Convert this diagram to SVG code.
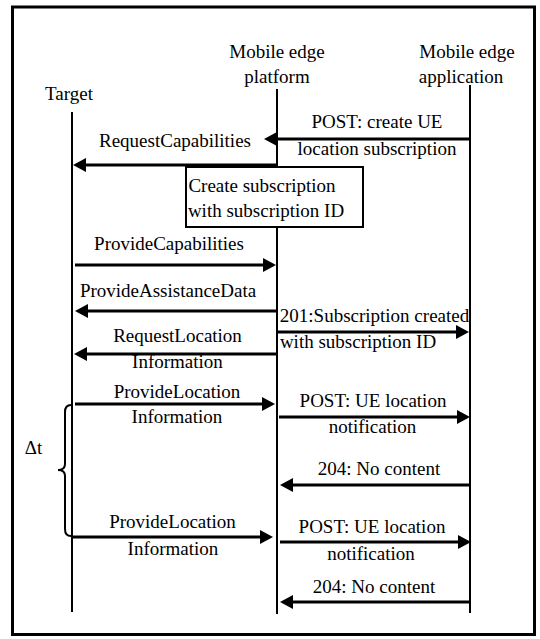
<svg xmlns="http://www.w3.org/2000/svg" width="540" height="639" viewBox="0 0 540 639">
  <style>
    .t { font-family: "Liberation Serif", serif; font-size: 19px; fill: #000; text-anchor: middle; }
    .frame { fill: #fff; stroke: #000; stroke-width: 3; }
    .life { stroke: #000; stroke-width: 2; fill: none; }
    .msg { stroke: #000; stroke-width: 3; fill: none; marker-end: url(#head); }
    .box { fill: #fff; stroke: #000; stroke-width: 2; }
    .brace { stroke: #000; stroke-width: 2; fill: none; }
  </style>
  <defs>
    <marker id="head" markerUnits="userSpaceOnUse" markerWidth="14" markerHeight="14" refX="5" refY="7" orient="auto">
      <path d="M0,0 L13,7 L0,14 Z" fill="#000"/>
    </marker>
  </defs>

  <rect class="frame" x="12.5" y="7" width="522" height="627.5"/>

  <!-- participants and their lifelines -->
  <g id="target">
    <text class="t" x="69" y="100">Target</text>
    <line class="life" x1="72" y1="112" x2="72" y2="612"/>
  </g>
  <g id="platform">
    <text class="t" x="277" y="58">Mobile edge</text>
    <text class="t" x="277" y="83">platform</text>
    <line class="life" x1="277" y1="89" x2="277" y2="614"/>
  </g>
  <g id="application">
    <text class="t" x="467" y="58">Mobile edge</text>
    <text class="t" x="461" y="83">application</text>
    <line class="life" x1="470" y1="85" x2="470" y2="613"/>
  </g>

  <!-- local action on the platform -->
  <g id="create-subscription">
    <rect class="box" x="186" y="167" width="177" height="60"/>
    <text class="t" x="262" y="192">Create subscription</text>
    <text class="t" x="266" y="217">with subscription ID</text>
  </g>

  <!-- messages -->
  <g id="connectors">
    <line class="msg" x1="469" y1="139" x2="272" y2="139"/>
    <line class="msg" x1="277" y1="165" x2="81" y2="165"/>
    <line class="msg" x1="75" y1="265" x2="268" y2="265"/>
    <line class="msg" x1="277" y1="311" x2="83" y2="311"/>
    <line class="msg" x1="278" y1="332" x2="461" y2="332"/>
    <line class="msg" x1="277" y1="354" x2="82" y2="354"/>
    <line class="msg" x1="75" y1="404" x2="267" y2="404"/>
    <line class="msg" x1="279" y1="417" x2="462" y2="417"/>
    <line class="msg" x1="470" y1="485" x2="288" y2="485"/>
    <line class="msg" x1="72" y1="537" x2="265" y2="537"/>
    <line class="msg" x1="280" y1="542" x2="463" y2="542"/>
    <line class="msg" x1="470" y1="602" x2="288" y2="602"/>
  </g>

  <!-- message labels -->
  <g id="labels">
    <text class="t" x="377" y="128">POST: create UE</text>
    <text class="t" x="377" y="155">location subscription</text>
    <text class="t" x="175" y="147">RequestCapabilities</text>
    <text class="t" x="169" y="250">ProvideCapabilities</text>
    <text class="t" x="168" y="297">ProvideAssistanceData</text>
    <text class="t" x="374.5" y="322">201:Subscription created</text>
    <text class="t" x="358" y="348">with subscription ID</text>
    <text class="t" x="177.5" y="342">RequestLocation</text>
    <text class="t" x="177.5" y="368">Information</text>
    <text class="t" x="177" y="398">ProvideLocation</text>
    <text class="t" x="177" y="423">Information</text>
    <text class="t" x="373" y="407">POST: UE location</text>
    <text class="t" x="372.5" y="433">notification</text>
    <text class="t" x="379" y="475">204: No content</text>
    <text class="t" x="172.5" y="528">ProvideLocation</text>
    <text class="t" x="173" y="555">Information</text>
    <text class="t" x="372" y="533">POST: UE location</text>
    <text class="t" x="371" y="560">notification</text>
    <text class="t" x="374" y="593">204: No content</text>
  </g>

  <!-- interval between location reports -->
  <g id="interval">
    <path class="brace" d="M71,405 Q65,405 65,412 L65,464 Q65,470 58,470 Q65,470 65,476 L65,529 Q65,536 71,536"/>
    <text class="t" x="33.5" y="454">Δt</text>
  </g>
</svg>
